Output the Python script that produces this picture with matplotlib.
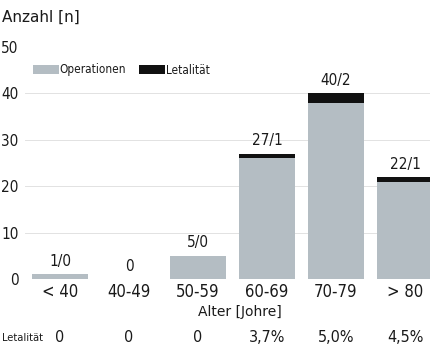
import matplotlib
matplotlib.use("Agg")
import matplotlib.pyplot as plt
from matplotlib.patches import Patch
from matplotlib import font_manager
from matplotlib.font_manager import FontProperties
import matplotlib.transforms as mtransforms

# Age groups, operation counts and deaths per group
categories = ["< 40", "40-49", "50-59", "60-69", "70-79", "> 80"]
operations = [1, 0, 5, 27, 40, 22]
deaths = [0, 0, 0, 1, 2, 1]
value_labels = ["1/0", "0", "5/0", "27/1", "40/2", "22/1"]
lethality_labels = ["0", "0", "0", "3,7%", "5,0%", "4,5%"]
y_ticks = [0, 10, 20, 30, 40, 50]

# Pick a narrow face for the compact labels
narrow_candidates = [f for f in font_manager.fontManager.ttflist
                     if ("Narrow" in f.name or f.stretch in ("condensed", "semi-condensed",
                                                            "extra-condensed"))
                     and f.style == "normal" and f.weight in (400, "normal", "regular")]
if narrow_candidates:
    nf = narrow_candidates[0]
    narrow_fp = dict(fname=nf.fname)
else:
    narrow_fp = dict(family="DejaVu Sans")


def nprop(size):
    return FontProperties(size=size, **narrow_fp)


wide = "DejaVu Sans"

GRAY = "#b4bdc3"
BLACK = "#111111"
TEXT = "#1a1a1a"

fig = plt.figure(figsize=(4.31, 3.56), dpi=100)
ax = fig.add_axes([25.5 / 431, (356 - 279) / 356, (431 - 25.5) / 431, (279 - 47) / 356])

x = list(range(len(categories)))
survivors = [o - d for o, d in zip(operations, deaths)]

ax.bar(x, survivors, width=0.8, color=GRAY, zorder=2)
ax.bar(x, deaths, bottom=survivors, width=0.8, color=BLACK, zorder=2)

for xi, total, lab in zip(x, operations, value_labels):
    ax.annotate(lab, (xi, total), xytext=(0, 6), textcoords="offset points",
                ha="center", va="baseline", fontproperties=nprop(11), color=TEXT)

ax.set_xlim(-0.5, 5.377)
ax.set_ylim(0, 50)
ax.set_yticks(y_ticks)
ax.set_yticklabels([str(t) for t in y_ticks], fontproperties=nprop(11), color=TEXT)
ax.set_xticks(x)
ax.set_xticklabels(categories, fontproperties=nprop(12), color=TEXT)
ax.tick_params(axis="x", length=0, pad=3)
ax.tick_params(axis="y", length=0, pad=5)

for t in y_ticks[1:-1]:
    ax.axhline(t, color="#e2e2e2", linewidth=0.7, zorder=1)

for s in ax.spines.values():
    s.set_visible(False)

# Axis titles
fig.text(2 / 431, 1 - 17 / 356, "Anzahl [n]", fontsize=11, family=wide,
         color=TEXT, va="center", ha="left")
ax.set_xlabel("Alter [Johre]", fontsize=10, family=wide, color=TEXT)
ax.xaxis.set_label_coords((240 - 25.5) / 405.5, -(312 - 279) / 232)
ax.xaxis.label.set_va("center")

# Lethality row beneath the axis
row_tf = mtransforms.blended_transform_factory(ax.transData, fig.transFigure)
fig.text(2 / 431, 1 - 338 / 356, "Letalität", fontproperties=nprop(8),
         color=TEXT, va="center", ha="left")
for xi, lab in zip(x, lethality_labels):
    ax.text(xi, 1 - 338 / 356, lab, transform=row_tf, ha="center",
            va="center", fontproperties=nprop(11.5), color=TEXT, clip_on=False)

handles = [Patch(facecolor=GRAY, label="Operationen"),
           Patch(facecolor=BLACK, label="Letalität")]
leg = ax.legend(handles=handles, loc="center left",
                bbox_to_anchor=((33 - 25.5) / 405.5, (279 - 70) / 232), ncol=2,
                frameon=False, handlelength=2.2, handleheight=0.85, handletextpad=0.05,
                columnspacing=1.1, borderpad=0, borderaxespad=0,
                prop=nprop(8.5))
for t in leg.get_texts():
    t.set_color(TEXT)

fig.savefig("out.png", dpi=100)
